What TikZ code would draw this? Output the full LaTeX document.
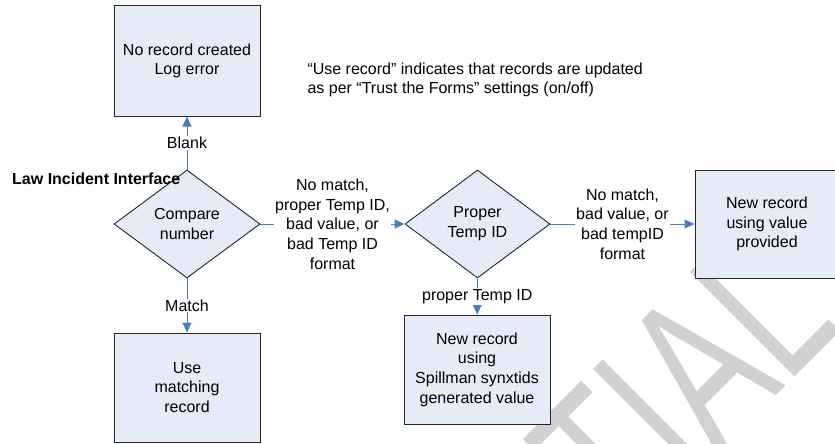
\documentclass[tikz,border=0pt]{standalone}
\usepackage{fontspec}
\setmainfont{Liberation Sans}
\usetikzlibrary{shapes.geometric,arrows.meta}

\definecolor{boxfill}{RGB}{230,236,247}
\definecolor{flowblue}{RGB}{74,126,187}

\tikzstyle{box}=[rectangle,draw=black!85,fill=boxfill,line width=1pt,minimum width=146pt,minimum height=109pt,inner sep=0pt,align=center]
\tikzstyle{decision}=[diamond,draw=black!85,fill=boxfill,line width=0.9pt,minimum width=146pt,minimum height=108pt,aspect=1.35,inner sep=0pt,align=center]
\tikzstyle{flow}=[draw,line width=1pt,flowblue,-{Triangle[length=10pt,width=9pt]}]
\tikzstyle{edge label}=[fill=white,text=black,inner sep=1pt,align=center]
\tikzstyle{watermark}=[text=black!18,font=\fontsize{215}{215}\selectfont,inner sep=0pt,transform shape]

\begin{document}
\begin{tikzpicture}[x=1pt,y=-1pt,font=\fontsize{16}{19.7}\selectfont]
\useasboundingbox (0,0) rectangle (835,444);
% watermark, behind the chart
\begin{scope}[shift={(844,328)},rotate=45,xscale=0.68]
  \node[watermark,anchor=base east] (wm) at (0,0) {TIAL};
\end{scope}
% boxes and decisions
\node[box,minimum height=110pt] (err) at (187,61) {No record created\\Log error};
\node[decision] (cmp) at (187,224) {Compare\\number};
\node[box] (use) at (187,387.5) {Use\\matching\\record};
\node[decision,minimum width=145pt] (ptid) at (477.5,224) {Proper\\Temp ID};
\node[box] (gen) at (477,369.5) {New record\\using\\Spillman synxtids\\generated value};
\node[box,minimum width=144pt,minimum height=108pt] (newv) at (767,224) {New record\\using value\\provided};
% free texts
\node[anchor=west,align=left] (note) at (304,80) {“Use record” indicates that records are updated\\as per “Trust the Forms” settings (on/off)};
\node[anchor=west,inner sep=0pt,font=\fontsize{16}{19.7}\selectfont\bfseries] (title) at (12,179) {Law Incident Interface};
% connectors with their labels
\foreach \source/\dest/\lbl in {cmp/err/{Blank}, cmp/use/{Match}, cmp/ptid/{No match,\\proper Temp ID,\\bad value, or\\bad Temp ID\\format}, ptid/gen/{proper Temp ID}, ptid/newv/{No match,\\bad value, or\\bad tempID\\format}}
  \path[flow] (\source) -- node[edge label] {\lbl} (\dest);
\end{tikzpicture}
\end{document}
